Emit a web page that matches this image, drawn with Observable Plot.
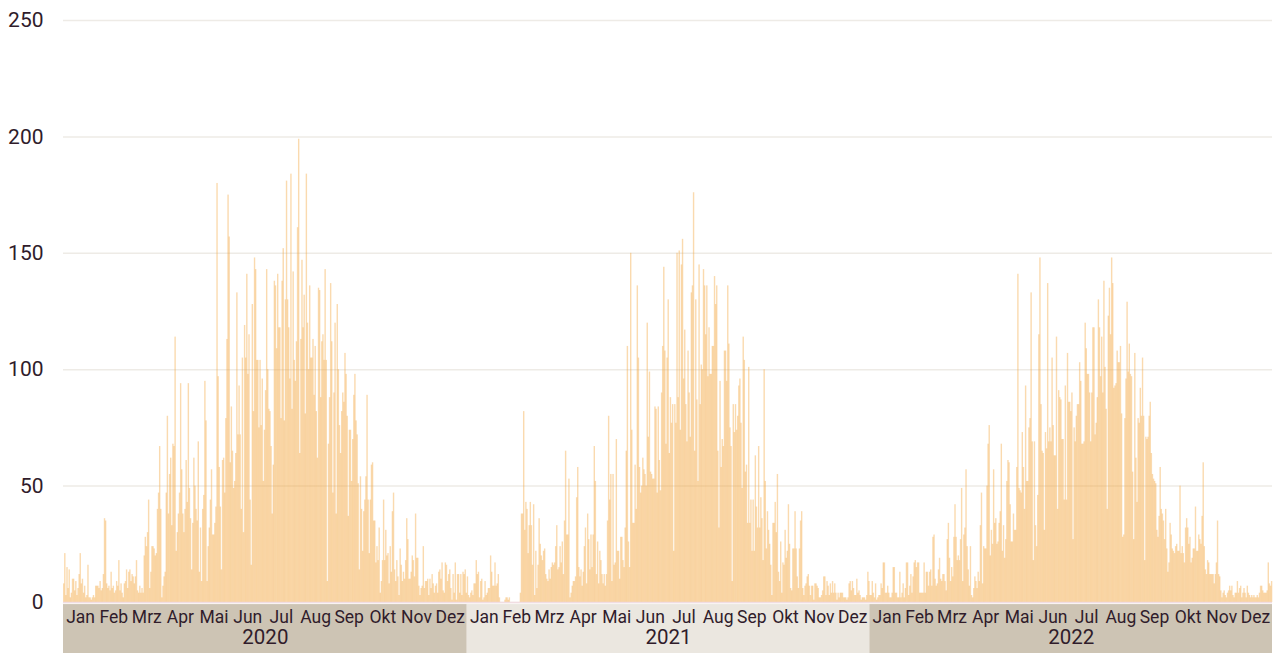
<!DOCTYPE html>
<html>
<head>
<meta charset="utf-8">
<script src="https://cdn.jsdelivr.net/npm/d3@7"></script>
<script src="https://cdn.jsdelivr.net/npm/@observablehq/plot@0.6"></script>
<style>
  html, body { margin: 0; padding: 0; background: #ffffff; }
  #chart svg { display: block; }
</style>
</head>
<body>
<div id="chart"></div>
<script>
// ---- data ----
const years = [2020, 2021, 2022];
const monthLabels = ["Jan","Feb","Mrz","Apr","Mai","Jun","Jul","Aug","Sep","Okt","Nov","Dez"];
const yTicks = [0, 50, 100, 150, 200, 250];
const bandColors = ["#cdc4b4", "#ebe7e0", "#cdc4b4"];

// daily values, one list per month
const values2020 = [
  [8,21,3,15,6,14,2,4,10,10,5,9,3,6,12,21,8,10,4,7,2,3,16,2,2,1,2,3,2,7,7],
  [7,6,9,5,6,12,36,35,8,6,7,5,13,6,7,4,5,9,7,18,5,8,4,2,8,9,14,6,13],
  [14,9,12,11,8,11,18,5,4,7,4,6,4,20,28,24,30,44,6,13,24,24,23,20,21,40,47,67,40,2,7],
  [11,13,47,80,38,55,62,33,68,67,114,22,30,38,47,94,57,38,30,40,61,43,94,49,36,14,34,62,50,40],
  [35,69,13,32,9,40,46,95,78,9,24,32,44,57,29,29,34,41,180,97,58,41,14,61,62,47,79,113,175,157,60],
  [84,65,49,52,64,133,72,93,72,40,105,30,119,105,141,98,115,44,16,128,82,148,143,104,104,75,104,76,96,52],
  [74,91,143,100,83,82,67,38,59,138,136,109,141,118,118,79,138,152,78,130,181,130,118,96,184,83,142,104,95,112,161],
  [199,64,113,147,118,132,81,184,120,100,136,105,105,113,89,110,82,62,135,134,88,112,115,104,143,104,9,68,88,137,112],
  [47,90,120,38,128,100,76,64,82,90,86,107,98,80,37,74,74,52,70,89,98,78,72,51,14,54,40,22,39,44],
  [54,89,44,21,44,59,60,35,35,17,24,18,32,4,9,18,44,18,31,20,21,8,24,13,39,47,14,9,18,11,3],
  [23,16,9,13,10,18,36,27,10,10,13,20,18,11,38,19,19,7,3,6,7,24,6,9,9,10,3,10,6,12],
  [8,4,7,8,4,13,14,10,17,5,4,17,16,9,12,14,6,1,12,4,17,1,12,12,4,12,3,13,12,14,4]
];
const values2021 = [
  [11,3,2,4,5,3,8,8,18,12,13,2,9,10,1,2,9,3,4,6,6,20,13,7,7,17,7,8,12,2,0],
  [0,0,0,1,2,2,1,2,0,0,0,0,0,0,0,0,0,4,38,38,82,31,43,40,21,33,43,33],
  [16,42,3,22,6,16,36,25,20,18,22,23,12,10,9,14,10,15,17,16,17,24,33,14,15,24,17,26,12,35,65],
  [29,29,53,2,4,7,9,9,11,45,58,15,11,14,7,13,24,32,8,38,27,14,29,15,29,67,52,12,26,8],
  [22,18,12,8,12,7,12,35,80,44,55,9,55,16,17,70,22,22,10,28,28,18,15,32,65,110,26,15,150,74,34],
  [34,59,40,136,105,58,47,50,62,57,55,50,120,71,99,56,55,53,53,84,83,47,84,61,48,90,110,144,108,68],
  [105,130,64,88,77,85,22,85,77,150,88,151,74,145,156,96,117,85,69,108,90,71,133,136,176,65,130,87,52,145,85],
  [102,100,143,136,115,136,97,118,98,98,110,110,140,128,136,65,32,95,58,70,67,108,108,95,136,111,75,67,9,85,73],
  [85,74,80,93,96,77,49,114,104,56,59,34,101,34,44,22,44,22,63,41,32,67,32,45,36,18,100,52,23,39],
  [31,25,16,3,34,34,43,30,55,13,9,26,4,17,16,31,19,22,42,25,6,5,23,23,39,23,11,6,23,35,39],
  [6,3,7,8,11,12,7,3,7,7,1,8,8,7,6,2,2,3,5,11,11,3,9,7,3,8,4,9,4,8],
  [4,1,4,2,4,4,4,2,2,2,1,2,8,9,5,9,6,3,3,10,4,5,3,1,2,2,2,1,3,13,9]
];
const values2022 = [
  [3,3,9,4,2,8,1,2,3,3,8,6,17,17,4,4,7,4,2,2,4,15,15,4,4,2,2,13,2,4,8],
  [2,6,17,17,3,7,12,4,11,17,18,15,17,17,4,4,4,4,17,4,13,13,7,13,14,7,28,29],
  [10,7,8,14,19,10,9,12,12,9,5,27,34,19,9,15,11,28,42,28,18,20,18,27,49,9,29,32,57,24,14],
  [7,24,3,2,6,11,9,6,13,9,33,47,8,24,23,23,50,68,76,20,31,25,57,34,36,25,26,34,39,68],
  [22,33,19,27,52,61,60,42,26,26,38,31,31,58,141,49,48,47,73,58,40,93,52,52,75,79,133,69,18,69,33],
  [24,46,115,148,85,65,64,31,73,66,137,69,75,69,105,76,63,63,114,40,91,88,87,70,70,44,93,44,107,86],
  [86,82,90,27,75,69,80,85,85,103,95,68,68,69,120,109,98,98,90,69,90,118,118,72,77,88,130,118,97,114,90],
  [138,101,83,40,123,135,115,148,137,92,93,94,108,103,103,110,81,28,29,79,96,129,99,111,98,97,56,27,107,62,43],
  [79,77,92,80,105,80,18,71,70,71,80,86,64,55,53,52,51,31,28,37,58,40,38,35,27,40,23,13,17,34],
  [29,23,22,21,24,25,22,22,50,21,24,21,17,32,36,32,25,28,17,19,23,23,41,22,22,29,27,25,37,60,24],
  [14,12,18,17,12,12,12,12,8,12,17,35,12,11,5,2,4,5,3,2,4,5,7,5,7,3,2,4,4,9],
  [4,6,7,2,4,6,4,2,7,4,3,2,3,2,3,2,2,3,2,4,7,7,5,4,4,4,5,17,8,7,9]
];
const valuesByYear = [values2020, values2021, values2022];

// ---- tables built from the lists ----
const daily = [];
const months = [];
const yearBands = [];
years.forEach((yr, yi) => {
  yearBands.push({
    start: new Date(Date.UTC(yr, 0, 1)),
    end: new Date(Date.UTC(yr + 1, 0, 1)),
    mid: new Date((Date.UTC(yr, 0, 1) + Date.UTC(yr + 1, 0, 1)) / 2),
    label: String(yr),
    color: bandColors[yi]
  });
  valuesByYear[yi].forEach((list, mi) => {
    const ms = Date.UTC(yr, mi, 1), me = Date.UTC(yr, mi + 1, 1);
    months.push({ mid: new Date((ms + me) / 2), label: monthLabels[mi] });
    list.forEach((v, di) => {
      const d0 = new Date(Date.UTC(yr, mi, di + 1));
      const d1 = new Date(Date.UTC(yr, mi, di + 2));
      daily.push({ start: d0, end: d1, value: v });
    });
  });
});

const textColor = "#301c2b";

const chart = Plot.plot({
  width: 1279,
  height: 653,
  marginLeft: 63,
  marginRight: 7,
  marginTop: 20,
  marginBottom: 51,
  style: { fontFamily: "Roboto, 'Noto Sans', sans-serif", background: "#ffffff", overflow: "visible" },
  x: { type: "utc", domain: [new Date(Date.UTC(2020, 0, 1)), new Date(Date.UTC(2023, 0, 1))], axis: null },
  y: { domain: [0, 250], axis: null },
  marks: [
    Plot.gridY(yTicks, { stroke: "#eeebe6", strokeOpacity: 1, strokeWidth: 1.5 }),
    Plot.axisY(yTicks, { tickSize: 0, tickPadding: 20, fontSize: 21, fill: textColor, anchor: "left", label: null }),
    Plot.rectY(daily, { x1: "start", x2: "end", y: "value", insetLeft: 0, insetRight: -0.3, fill: "#f4a640", fillOpacity: 0.42 }),
    Plot.ruleY([0], { stroke: "#f1dde2", strokeWidth: 1.5 }),
    Plot.rect(yearBands, { x1: "start", x2: "end", y1: -0.9, y2: -22, fill: "color" }),
    Plot.text(months, { x: "mid", y: -6.5, text: "label", fontSize: 17.5, fill: textColor }),
    Plot.text(yearBands, { x: "mid", y: -15.2, text: "label", fontSize: 20.5, fill: textColor })
  ]
});
document.getElementById("chart").appendChild(chart);
</script>
</body>
</html>
